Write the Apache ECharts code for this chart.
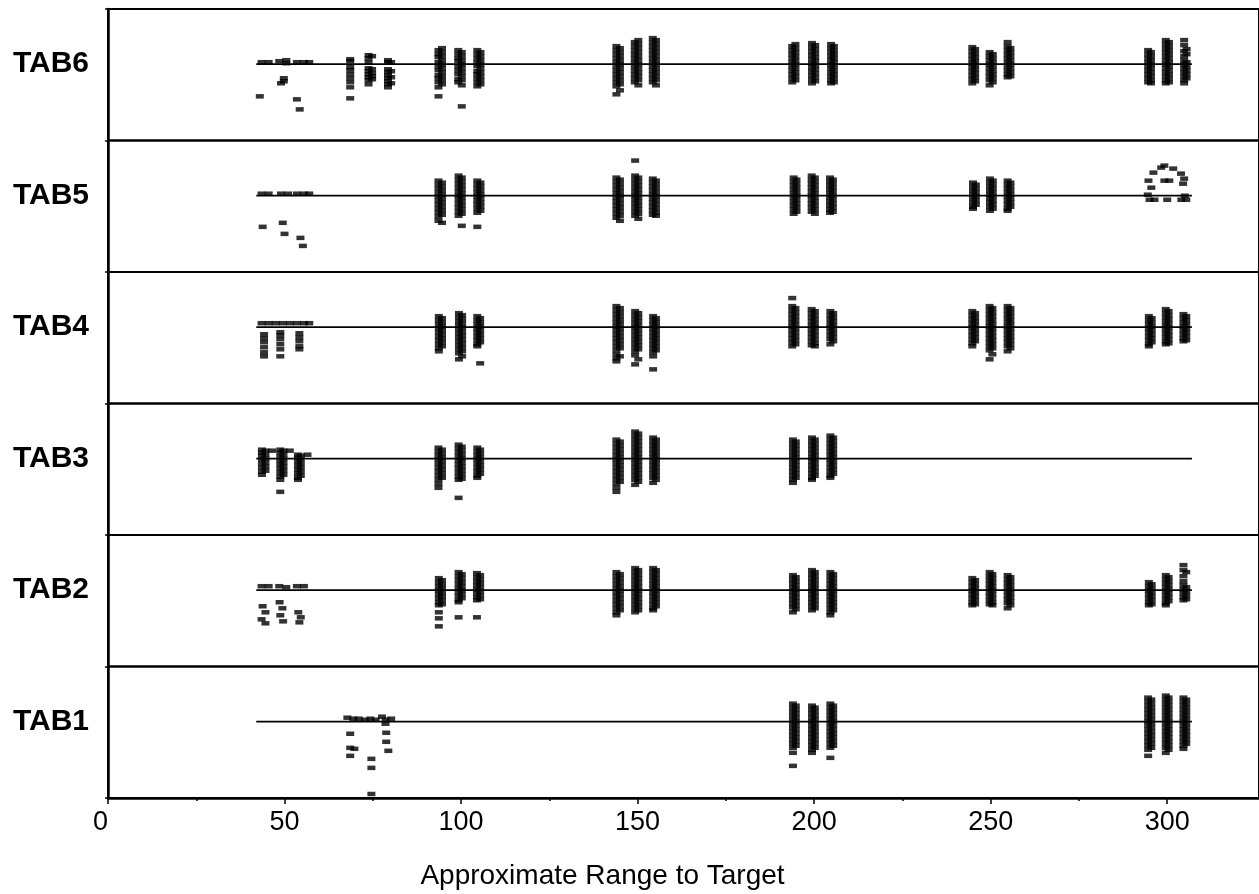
<!DOCTYPE html>
<html><head><meta charset="utf-8">
<script src="https://cdn.jsdelivr.net/npm/echarts@6/dist/echarts.min.js"></script>
<style>html,body{margin:0;padding:0;background:#fff}#c{width:1259px;height:894px}</style>
</head><body><div id="c"></div>
<script>
// ---- labels / ticks ----
const panelNames = ['TAB6', 'TAB5', 'TAB4', 'TAB3', 'TAB2', 'TAB1'];
const xMajorTicks = [0, 50, 100, 150, 200, 250, 300];
const xMinorTicks = [25, 75, 125, 175, 225, 275];
const xTitle = 'Approximate Range to Target';
const refLine = [[42, 0], [307, 0]];

// ---- data: columns [x, [y offsets]] and isolated points [x, y] ----
const tab6Cols = [
  [68.6, [5, 3, -3, -6, -10, -14, -18, -23, -34]],
  [73.8, [9, 6, 2, -4, -7, -10, -13, -16, -20]],
  [74.8, [8, -5, -9, -12, -15]],
  [79.3, [4, 2, -5, -8, -11, -14, -17, -20, -23]],
  [80.2, [2, -7, -13, -19]],
  [93.6, [14, 10, 7, 2, -2, -6, -11, -14, -18, -23, -32]],
  [94.6, [16, 12, 8, 4, 0, -4, -8, -12, -16, -20]],
  [99.2, [14, 10, 6, 3, -2, -6, -10, -15, -18]],
  [100.2, [12, 8, 4, 0, -4, -8, -12, -16, -21, -42]],
  [104.6, [14, 10, 6, 2, -2, -7, -10, -14, -18, -22]],
  [105.5, [12, 8, 4, 0, -4, -8, -12, -16, -20]],
  [144.0, [18, 14, 10, 6, 2, -2, -6, -10, -14, -18, -22, -30]],
  [145.0, [16, 12, 8, 4, 0, -4, -8, -12, -16, -20, -26]],
  [149.2, [22, 18, 14, 10, 6, 2, -2, -6, -10, -14, -18]],
  [150.2, [24, 20, 16, 12, 8, 4, 0, -4, -8, -12, -16, -21]],
  [154.3, [26, 22, 18, 14, 10, 6, 2, -2, -6, -10, -14, -18]],
  [155.2, [24, 20, 16, 12, 8, 4, 0, -4, -8, -12, -16, -21]],
  [193.8, [18, 14, 10, 6, 2, -2, -6, -10, -14, -18]],
  [194.7, [20, 16, 12, 8, 4, 0, -4, -8, -12, -16]],
  [199.4, [21, 17, 13, 9, 5, 1, -3, -7, -11, -15, -19]],
  [200.3, [19, 15, 11, 7, 3, -1, -5, -9, -13, -17]],
  [204.8, [20, 16, 12, 8, 4, 0, -4, -8, -12, -16, -19]],
  [205.6, [18, 14, 10, 6, 2, -2, -6, -10, -14, -18]],
  [244.8, [17, 13, 9, 5, 1, -3, -7, -11, -15, -19]],
  [245.6, [15, 11, 7, 3, -1, -5, -9, -13, -17]],
  [249.7, [12, 8, 4, 0, -4, -8, -12, -16, -21]],
  [250.6, [10, 6, 2, -2, -6, -10, -14, -18]],
  [254.8, [22, 18, 14, 10, 6, 2, -2, -6, -10, -13]],
  [255.6, [16, 12, 8, 4, 0, -4, -8, -12]],
  [294.6, [14, 10, 6, 2, -2, -6, -10, -14, -18]],
  [295.4, [12, 8, 4, 0, -4, -8, -12, -16, -19]],
  [299.6, [24, 20, 16, 12, 8, 4, 0, -4, -8, -12, -16, -19]],
  [300.5, [22, 18, 14, 10, 6, 2, -2, -6, -10, -14, -18]],
  [304.8, [24, 19, 13, 8, 4, 0, -4, -8, -12, -16, -19]],
  [305.5, [15, 10, 2, -2, -6, -10, -14]]
];
const tab6Pts = [[43.5, 2], [45.5, 2], [48.5, 3], [50.5, 4], [50.5, 1], [53.5, 2], [55.5, 2], [57, 2],
  [49.8, -14], [49.8, -17], [49, -19], [43, -32], [53.5, -35], [54.3, -45]];

const tab5Cols = [
  [93.6, [15, 11, 7, 3, -1, -5, -9, -13, -17, -21, -25]],
  [94.6, [13, 9, 5, 1, -3, -7, -11, -15, -19, -27]],
  [99.3, [20, 16, 12, 8, 4, 0, -4, -8, -12, -16, -20]],
  [100.2, [18, 14, 10, 6, 2, -2, -6, -10, -14, -18, -30]],
  [104.6, [15, 11, 7, 3, -1, -5, -9, -13, -17, -31]],
  [105.5, [13, 9, 5, 1, -3, -7, -11, -15]],
  [144.0, [18, 14, 10, 6, 2, -2, -6, -10, -14, -18, -22]],
  [145.0, [16, 12, 8, 4, 0, -4, -8, -12, -16, -20, -25]],
  [149.3, [35, 20, 16, 12, 8, 4, 0, -4, -8, -12, -16, -20]],
  [150.2, [18, 14, 10, 6, 2, -2, -6, -10, -14, -18, -23]],
  [154.3, [17, 13, 9, 5, 1, -3, -7, -11, -15, -19]],
  [155.2, [15, 11, 7, 3, -1, -5, -9, -13, -17, -20]],
  [194.2, [18, 14, 10, 6, 2, -2, -6, -10, -14, -18]],
  [195.0, [16, 12, 8, 4, 0, -4, -8, -12, -16]],
  [199.3, [20, 16, 12, 8, 4, 0, -4, -8, -12, -16]],
  [200.2, [18, 14, 10, 6, 2, -2, -6, -10, -14, -18]],
  [204.5, [18, 14, 10, 6, 2, -2, -6, -10, -14, -17]],
  [205.3, [16, 12, 8, 4, 0, -4, -8, -12, -16]],
  [245.0, [13, 9, 5, 1, -3, -7, -11, -13]],
  [245.8, [11, 7, 3, -1, -5, -9]],
  [249.8, [17, 13, 9, 5, 1, -3, -7, -11, -15]],
  [250.6, [15, 11, 7, 3, -1, -5, -9, -13]],
  [254.8, [15, 11, 7, 3, -1, -5, -9, -13, -15]],
  [255.6, [13, 9, 5, 1, -3, -7, -11]]
];
const tab5Pts = [[43.5, 2], [45.5, 2], [49, 2], [51, 2], [53.5, 2], [55.5, 2], [57, 2],
  [43.8, -31], [49.5, -27], [50, -38], [54.5, -42], [55.2, -50],
  [296.1, 23], [298.3, 28], [299.2, 30], [301.7, 27], [303.9, 22], [304.8, 17], [294.7, 15], [299.2, 15],
  [300.6, 15], [304.5, 12], [295.5, 8], [295, -4], [296.4, -4], [300, -4], [304, -4], [305.4, -4], [294.5, 1], [305, 0]];

const tab4Cols = [
  [44.2, [-7, -11, -15, -20, -25, -29]],
  [48.8, [-5, -8, -12, -17, -22, -29]],
  [54.2, [-6, -10, -14, -19, -22]],
  [93.7, [11, 7, 3, -1, -5, -9, -13, -17, -21, -24]],
  [94.6, [9, 5, 1, -3, -7, -11, -15, -19]],
  [99.4, [14, 10, 6, 2, -2, -6, -10, -14, -18, -22, -26, -32]],
  [100.3, [12, 8, 4, 0, -4, -8, -12, -16, -20, -24, -29]],
  [104.6, [11, 7, 3, -1, -5, -9, -13, -17, -19]],
  [105.4, [9, 5, 1, -3, -7, -11, -15, -36]],
  [144.0, [21, 17, 13, 9, 5, 1, -3, -7, -11, -15, -19, -23, -27, -31, -34]],
  [145.0, [19, 15, 11, 7, 3, -1, -5, -9, -13, -17, -21, -29]],
  [149.3, [16, 12, 8, 4, 0, -4, -8, -12, -16, -20, -24, -28, -37]],
  [150.2, [14, 10, 6, 2, -2, -6, -10, -14, -18, -22, -32]],
  [154.4, [11, 7, 3, -1, -5, -9, -13, -17, -21, -25, -29, -42]],
  [155.2, [9, 5, 1, -3, -7, -11, -15, -19, -23]],
  [193.8, [29, 21, 17, 13, 9, 5, 1, -3, -7, -11, -15, -19]],
  [194.7, [19, 15, 11, 7, 3, -1, -5, -9, -13, -17]],
  [199.3, [18, 14, 10, 6, 2, -2, -6, -10, -14, -18]],
  [200.2, [16, 12, 8, 4, 0, -4, -8, -12, -16, -19]],
  [204.6, [16, 12, 8, 4, 0, -4, -8, -12, -17]],
  [205.4, [14, 10, 6, 2, -2, -6, -10, -14]],
  [244.8, [16, 12, 8, 4, 0, -4, -8, -12, -16, -19]],
  [245.6, [14, 10, 6, 2, -2, -6, -10, -14]],
  [249.7, [21, 17, 13, 9, 5, 1, -3, -7, -11, -15, -19, -23, -32]],
  [250.5, [19, 15, 11, 7, 3, -1, -5, -9, -13, -17, -21, -27]],
  [254.8, [21, 17, 13, 9, 5, 1, -3, -7, -11, -15, -19, -24]],
  [255.6, [19, 15, 11, 7, 3, -1, -5, -9, -13, -17, -21]],
  [294.8, [11, 7, 3, -1, -5, -9, -13, -17, -19]],
  [295.6, [9, 5, 1, -3, -7, -11, -15]],
  [299.6, [18, 14, 10, 6, 2, -2, -6, -10, -14, -17]],
  [300.4, [16, 12, 8, 4, 0, -4, -8, -12, -16]],
  [304.6, [13, 9, 5, 1, -3, -7, -11, -14]],
  [305.4, [11, 7, 3, -1, -5, -9, -13]]
];
const tab4Pts = [[43.5, 4], [45.5, 4], [47.5, 4], [49.5, 4], [51.5, 4], [53.5, 4], [55.5, 4], [57, 4]];

const tab3Cols = [
  [43.6, [9, 6, 3, -1, -5, -9, -13, -16]],
  [44.6, [8, 4, 0, -4, -8, -12]],
  [48.8, [9, 6, 2, -2, -6, -10, -14, -18, -21, -33]],
  [49.7, [8, 4, 0, -4, -8, -12, -16]],
  [53.8, [4, 1, -3, -7, -11, -15, -19, -21]],
  [54.6, [3, -1, -5, -9, -13, -17]],
  [93.6, [11, 7, 3, -1, -5, -9, -13, -17, -21, -25, -29]],
  [94.6, [9, 5, 1, -3, -7, -11, -15, -19]],
  [99.3, [14, 10, 6, 2, -2, -6, -10, -14, -18, -21, -39]],
  [100.2, [12, 8, 4, 0, -4, -8, -12, -16, -20]],
  [104.6, [11, 7, 3, -1, -5, -9, -13, -17, -19]],
  [105.4, [9, 5, 1, -3, -7, -11, -15]],
  [144.0, [19, 15, 11, 7, 3, -1, -5, -9, -13, -17, -21, -25, -29, -33]],
  [145.0, [17, 13, 9, 5, 1, -3, -7, -11, -15, -19, -23]],
  [149.3, [27, 23, 19, 15, 11, 7, 3, -1, -5, -9, -13, -17, -21, -26]],
  [150.2, [25, 21, 17, 13, 9, 5, 1, -3, -7, -11, -15, -19, -23]],
  [154.4, [21, 17, 13, 9, 5, 1, -3, -7, -11, -15, -19, -24]],
  [155.2, [19, 15, 11, 7, 3, -1, -5, -9, -13, -17, -21]],
  [194.0, [19, 15, 11, 7, 3, -1, -5, -9, -13, -17, -21, -24]],
  [194.8, [17, 13, 9, 5, 1, -3, -7, -11, -15, -19]],
  [199.4, [21, 17, 13, 9, 5, 1, -3, -7, -11, -15, -19, -21]],
  [200.2, [19, 15, 11, 7, 3, -1, -5, -9, -13, -17]],
  [204.6, [23, 19, 15, 11, 7, 3, -1, -5, -9, -13, -17, -19]],
  [205.4, [21, 17, 13, 9, 5, 1, -3, -7, -11, -15]]
];
const tab3Pts = [[46.5, 8], [51.5, 8], [56.5, 4]];

const tab2Cols = [
  [93.7, [12, 8, 4, 0, -4, -8, -12, -15, -22, -28, -36]],
  [94.6, [10, 6, 2, -2, -6, -10, -14]],
  [99.3, [18, 14, 10, 6, 2, -2, -6, -10, -12, -27]],
  [100.2, [16, 12, 8, 4, 0, -4, -8]],
  [104.5, [17, 13, 9, 5, 1, -3, -7, -10, -27]],
  [105.4, [15, 11, 7, 3, -1, -5, -9]],
  [144.0, [18, 14, 10, 6, 2, -2, -6, -10, -14, -18, -22, -25]],
  [145.0, [16, 12, 8, 4, 0, -4, -8, -12, -16, -20]],
  [149.3, [22, 18, 14, 10, 6, 2, -2, -6, -10, -14, -18, -22]],
  [150.2, [20, 16, 12, 8, 4, 0, -4, -8, -12, -16, -20]],
  [154.4, [22, 18, 14, 10, 6, 2, -2, -6, -10, -14, -18, -20]],
  [155.2, [20, 16, 12, 8, 4, 0, -4, -8, -12, -16]],
  [194.0, [15, 11, 7, 3, -1, -5, -9, -13, -17, -22]],
  [194.8, [13, 9, 5, 1, -3, -7, -11, -15, -19]],
  [199.4, [20, 16, 12, 8, 4, 0, -4, -8, -12, -16, -20]],
  [200.2, [18, 14, 10, 6, 2, -2, -6, -10, -14, -18]],
  [204.6, [18, 14, 10, 6, 2, -2, -6, -10, -14, -18, -22, -25]],
  [205.4, [16, 12, 8, 4, 0, -4, -8, -12, -16, -20]],
  [244.8, [12, 8, 4, 0, -4, -8, -12, -15]],
  [245.6, [10, 6, 2, -2, -6, -10, -14]],
  [249.7, [18, 14, 10, 6, 2, -2, -6, -10, -14]],
  [250.5, [16, 12, 8, 4, 0, -4, -8, -12, -15]],
  [254.8, [15, 11, 7, 3, -1, -5, -9, -13, -18]],
  [255.6, [13, 9, 5, 1, -3, -7, -11, -15]],
  [294.8, [8, 4, 0, -4, -8, -12, -15]],
  [295.6, [6, 2, -2, -6, -10, -14]],
  [299.6, [15, 11, 7, 3, -1, -5, -9, -13, -15]],
  [300.4, [13, 9, 5, 1, -3, -7, -11]],
  [304.6, [25, 20, 14, 9, 5, 1, -3, -7, -10]],
  [305.4, [18, 3, -1, -5, -9]]
];
const tab2Pts = [[43.5, 4], [45.5, 4], [48.5, 4], [50.5, 3], [53.5, 4], [55.5, 4],
  [43.8, -16], [44.6, -22], [43.5, -29], [44.6, -33], [48.6, -12], [49.4, -18], [48.8, -25], [49.6, -31],
  [53.9, -22], [54.6, -27], [54.2, -32]];

const tab1Cols = [
  [194.0, [18, 14, 10, 6, 2, -2, -6, -10, -14, -18, -22, -26, -31, -44]],
  [194.8, [16, 12, 8, 4, 0, -4, -8, -12, -16, -20, -24]],
  [199.4, [16, 12, 8, 4, 0, -4, -8, -12, -16, -20, -24, -28, -31]],
  [200.2, [14, 10, 6, 2, -2, -6, -10, -14, -18, -22, -26]],
  [204.6, [18, 14, 10, 6, 2, -2, -6, -10, -14, -18, -22, -26, -36]],
  [205.4, [16, 12, 8, 4, 0, -4, -8, -12, -16, -20, -24]],
  [294.6, [24, 20, 16, 12, 8, 4, 0, -4, -8, -12, -16, -20, -24, -28, -34]],
  [295.5, [22, 18, 14, 10, 6, 2, -2, -6, -10, -14, -18, -22, -26]],
  [299.6, [26, 22, 18, 14, 10, 6, 2, -2, -6, -10, -14, -18, -22, -26, -31]],
  [300.4, [24, 20, 16, 12, 8, 4, 0, -4, -8, -12, -16, -20, -24, -28]],
  [304.6, [24, 20, 16, 12, 8, 4, 0, -4, -8, -12, -16, -20, -24, -27]],
  [305.4, [22, 18, 14, 10, 6, 2, -2, -6, -10, -14, -18, -22]]
];
const tab1Pts = [[67.8, 4], [69.5, 3], [71, 3], [72.8, 2], [74.3, 3], [75.8, 2], [77.6, 5], [78.6, 2], [80.2, 3],
  [78.6, -2], [68.6, -12], [68.6, -26], [69.8, -27], [68.6, -34], [74.6, -37], [74.6, -46], [74.6, -72],
  [78.8, -11], [78.8, -20], [79.4, -29]];

const panelCols = [tab6Cols, tab5Cols, tab4Cols, tab3Cols, tab2Cols, tab1Cols];
const panelPts = [tab6Pts, tab5Pts, tab4Pts, tab3Pts, tab2Pts, tab1Pts];

// ---- chart ----
const FONT = "'Liberation Sans', Arial, sans-serif";
const top0 = 9, ph = 131.5, gLeft = 108, gWidth = 1160;
const grids = [], xAxes = [], yAxes = [], series = [];
panelNames.forEach((name, i) => {
  grids.push({ left: gLeft, width: gWidth, top: top0 + i * ph, height: ph, show: true,
    borderColor: '#000', borderWidth: 2, backgroundColor: 'transparent' });
  const isBottom = i === panelNames.length - 1;
  xAxes.push({
    gridIndex: i, type: 'value', min: 0, max: 326, show: isBottom,
    axisLine: { show: true, onZero: false, lineStyle: { color: '#000', width: 2.5 } },
    axisTick: { show: true, length: 6, customValues: xMajorTicks, lineStyle: { color: '#000', width: 1.5 } },
    axisLabel: { show: true, customValues: xMajorTicks, margin: 11, color: '#000', fontSize: 27,
      fontFamily: FONT, alignMinLabel: 'right' },
    splitLine: { show: false },
    name: isBottom ? xTitle : '', nameLocation: 'middle', nameGap: 64,
    nameTextStyle: { color: '#000', fontSize: 28, fontFamily: FONT, padding: [0, 162, 0, 0] }
  });
  yAxes.push({
    gridIndex: i, type: 'value', min: -76, max: 55,
    axisLine: { show: true, onZero: false, lineStyle: { color: '#000', width: 2.5 } },
    axisTick: { show: true, length: 3, customValues: [-76, 55], lineStyle: { color: '#000', width: 1.5 } },
    axisLabel: { show: true, customValues: [0], margin: 19, formatter: () => name, color: '#000',
      fontSize: 30, fontWeight: 'bold', fontFamily: FONT },
    splitLine: { show: false }
  });
  series.push({
    type: 'line', xAxisIndex: i, yAxisIndex: i, data: refLine, symbol: 'none', silent: true,
    lineStyle: { color: '#000', width: 1.8 }, z: 1
  });
  const pts = panelPts[i].slice();
  panelCols[i].forEach(([x, ys]) => ys.forEach(y => pts.push([x, y])));
  series.push({
    type: 'scatter', xAxisIndex: i, yAxisIndex: i, data: pts, symbol: 'rect', symbolSize: [8, 4.5],
    itemStyle: { color: '#000' }, silent: true, z: 2
  });
});
// minor ticks on the bottom axis
xAxes.push({
  gridIndex: panelNames.length - 1, type: 'value', min: 0, max: 326, position: 'bottom',
  axisLine: { show: false, onZero: false }, axisLabel: { show: false }, splitLine: { show: false },
  axisTick: { show: true, length: 3, customValues: xMinorTicks, lineStyle: { color: '#000', width: 1.5 } }
});

const chart = echarts.init(document.getElementById('c'));
chart.setOption({
  animation: false, backgroundColor: '#fff',
  grid: grids, xAxis: xAxes, yAxis: yAxes, series: series
});
</script></body></html>
